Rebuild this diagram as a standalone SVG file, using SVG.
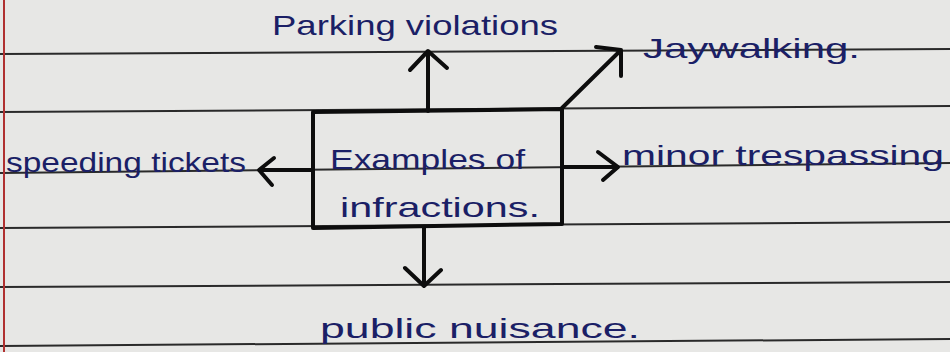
<svg xmlns="http://www.w3.org/2000/svg" width="950" height="352" viewBox="0 0 950 352">
<defs>
<style>
.rule{stroke:#2a2a2a;stroke-width:2;fill:none}
.ink{stroke:#0d0d0d;stroke-width:4;fill:none;stroke-linecap:round;stroke-linejoin:round}
.lbl{font-family:"Liberation Sans",Arial,sans-serif;font-size:28px;fill:#1b1f66}
</style>
</defs>
<rect x="0" y="0" width="950" height="352" fill="#e7e7e5"/>
<g id="paper">
<line class="rule" x1="0" y1="54" x2="950" y2="49"/>
<line class="rule" x1="0" y1="112" x2="950" y2="106"/>
<line class="rule" x1="0" y1="173" x2="950" y2="163"/>
<line class="rule" x1="0" y1="228" x2="950" y2="222"/>
<line class="rule" x1="0" y1="287" x2="950" y2="282"/>
<line class="rule" x1="0" y1="346" x2="950" y2="339"/>
<line x1="4" y1="0" x2="4" y2="352" stroke="#b03030" stroke-width="2"/>
</g>
<g id="connectors">
<path class="ink" d="M428 111 L428 52 M410 70 L428 51 L447 68"/>
<path class="ink" d="M561 109 L620 51 M596 47 L621 50 L621 76"/>
<path class="ink" d="M562 167 L617 167 M598 152 L618 167 L603 180"/>
<path class="ink" d="M313 170 L260 170 M274 158 L259 170 L272 185"/>
<path class="ink" d="M424 228 L424 286 M405 268 L424 286 L441 270"/>
</g>
<g id="center">
<path class="ink" d="M313 112 L562 109 L562 224 L313 228 Z"/>
<text class="lbl" x="330" y="169" textLength="195" lengthAdjust="spacingAndGlyphs">Examples of</text>
<text class="lbl" x="340" y="217" textLength="200" lengthAdjust="spacingAndGlyphs">infractions.</text>
</g>
<g id="parking">
<text class="lbl" x="272" y="35" textLength="286" lengthAdjust="spacingAndGlyphs">Parking violations</text>
</g>
<g id="jaywalking">
<text class="lbl" x="643" y="58" textLength="217" lengthAdjust="spacingAndGlyphs">Jaywalking.</text>
</g>
<g id="speeding">
<text class="lbl" x="6" y="172" textLength="240" lengthAdjust="spacingAndGlyphs">speeding tickets</text>
</g>
<g id="trespassing">
<text class="lbl" x="622" y="165" textLength="322" lengthAdjust="spacingAndGlyphs">minor trespassing</text>
</g>
<g id="nuisance">
<text class="lbl" x="320" y="338" textLength="320" lengthAdjust="spacingAndGlyphs">public nuisance.</text>
</g>
</svg>
